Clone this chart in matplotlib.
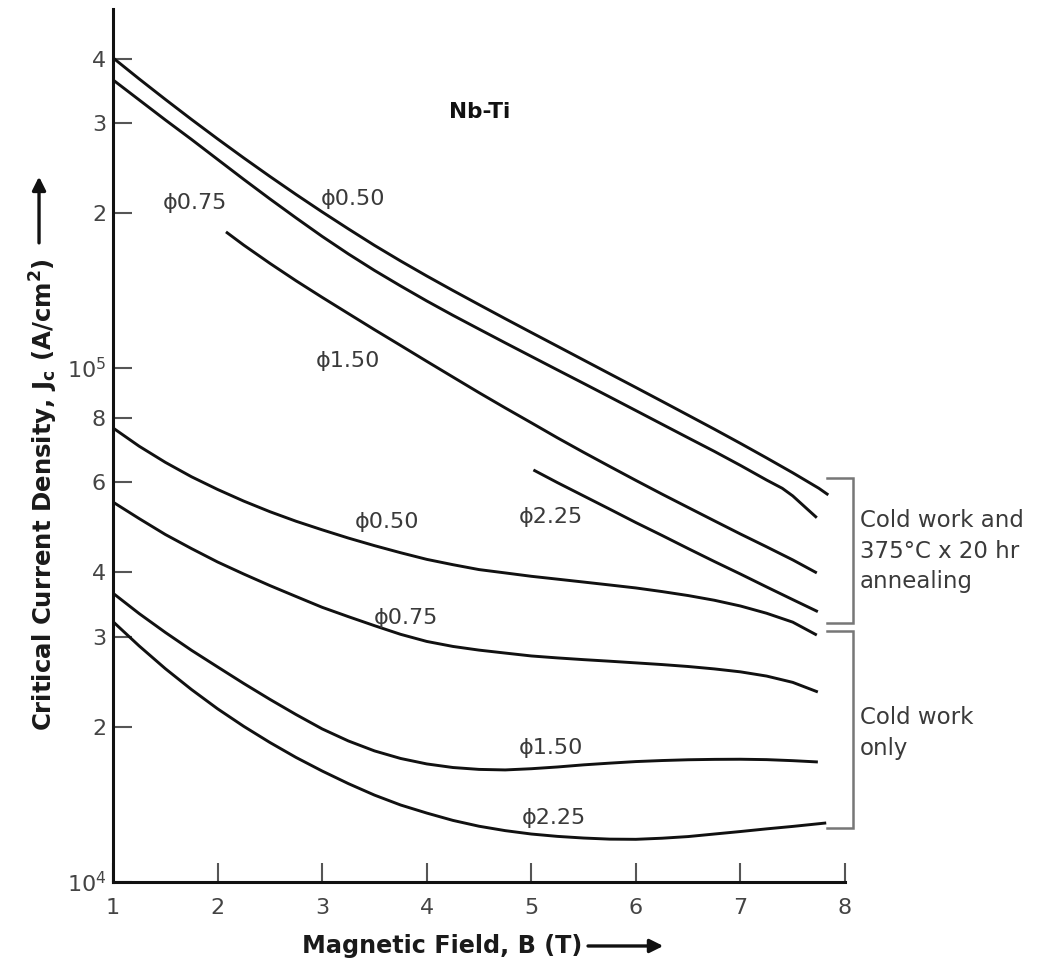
import matplotlib
matplotlib.use("Agg")
import matplotlib.pyplot as plt
from matplotlib.ticker import FixedLocator, FixedFormatter, NullLocator

plt.rcParams['font.family'] = ['DejaVu Sans']

# ---- Critical current density Jc (A/cm^2) vs magnetic field B (T), Nb-Ti wires ----
# Cold work + 375 C x 20 hr annealing
b_ann_050 = [1.0, 1.25, 1.5, 1.75, 2.0, 2.25, 2.5, 2.75, 3.0, 3.25, 3.5, 3.75, 4.0, 4.25, 4.5,
             4.75, 5.0, 5.25, 5.5, 5.75, 6.0, 6.25, 6.5, 6.75, 7.0, 7.25, 7.5, 7.75, 7.84]
jc_ann_050 = [4.013e5, 3.652e5, 3.332e5, 3.046e5, 2.791e5, 2.563e5, 2.359e5, 2.176e5, 2.012e5,
              1.865e5, 1.732e5, 1.615e5, 1.510e5, 1.415e5, 1.328e5, 1.247e5, 1.172e5, 1.102e5,
              1.036e5, 9.74e4, 9.16e4, 8.61e4, 8.09e4, 7.60e4, 7.13e4, 6.68e4, 6.25e4, 5.83e4,
              5.66e4]

b_ann_075 = [1.0, 1.25, 1.5, 1.75, 2.0, 2.25, 2.5, 2.75, 3.0, 3.25, 3.5, 3.75, 4.0, 4.25, 4.5,
             4.75, 5.0, 5.25, 5.5, 5.75, 6.0, 6.25, 6.5, 6.75, 7.0, 7.25, 7.4, 7.5, 7.6, 7.73]
jc_ann_075 = [3.636e5, 3.324e5, 3.039e5, 2.785e5, 2.546e5, 2.328e5, 2.133e5, 1.959e5, 1.803e5,
              1.667e5, 1.548e5, 1.444e5, 1.350e5, 1.266e5, 1.190e5, 1.119e5, 1.053e5, 9.91e4,
              9.33e4, 8.78e4, 8.26e4, 7.77e4, 7.31e4, 6.88e4, 6.46e4, 6.05e4, 5.83e4, 5.635e4,
              5.40e4, 5.11e4]

b_ann_150 = [2.08, 2.25, 2.5, 2.75, 3.0, 3.25, 3.5, 3.75, 4.0, 4.25, 4.5, 4.75, 5.0, 5.25, 5.5,
             5.75, 6.0, 6.25, 6.5, 6.75, 7.0, 7.25, 7.5, 7.73]
jc_ann_150 = [1.840e5, 1.734e5, 1.598e5, 1.478e5, 1.372e5, 1.276e5, 1.187e5, 1.106e5, 1.030e5,
              9.60e4, 8.95e4, 8.36e4, 7.82e4, 7.31e4, 6.85e4, 6.43e4, 6.04e4, 5.68e4, 5.35e4,
              5.04e4, 4.75e4, 4.485e4, 4.23e4, 3.99e4]

b_ann_225 = [5.02, 5.25, 5.5, 5.75, 6.0, 6.25, 6.5, 6.75, 7.0, 7.25, 7.5, 7.74]
jc_ann_225 = [6.33e4, 5.98e4, 5.635e4, 5.31e4, 5.00e4, 4.72e4, 4.45e4, 4.20e4, 3.97e4,
              3.747e4, 3.54e4, 3.354e4]

# Cold work only
b_cw_050 = [1.0, 1.25, 1.5, 1.75, 2.0, 2.25, 2.5, 2.75, 3.0, 3.25, 3.5, 3.75, 4.0, 4.25, 4.5,
            4.75, 5.0, 5.25, 5.5, 5.75, 6.0, 6.25, 6.5, 6.75, 7.0, 7.25, 7.5, 7.73]
jc_cw_050 = [7.64e4, 7.04e4, 6.55e4, 6.14e4, 5.80e4, 5.505e4, 5.25e4, 5.03e4, 4.84e4, 4.665e4,
             4.509e4, 4.368e4, 4.24e4, 4.14e4, 4.05e4, 3.99e4, 3.93e4, 3.88e4, 3.83e4, 3.78e4,
             3.73e4, 3.67e4, 3.605e4, 3.53e4, 3.44e4, 3.33e4, 3.20e4, 3.02e4]

b_cw_075 = [1.0, 1.25, 1.5, 1.75, 2.0, 2.25, 2.5, 2.75, 3.0, 3.25, 3.5, 3.75, 4.0, 4.25, 4.5,
            4.75, 5.0, 5.25, 5.5, 5.75, 6.0, 6.25, 6.5, 6.75, 7.0, 7.25, 7.5, 7.74]
jc_cw_075 = [5.48e4, 5.09e4, 4.74e4, 4.45e4, 4.19e4, 3.97e4, 3.77e4, 3.59e4, 3.42e4, 3.28e4,
             3.15e4, 3.03e4, 2.935e4, 2.87e4, 2.823e4, 2.786e4, 2.75e4, 2.726e4, 2.705e4,
             2.686e4, 2.666e4, 2.646e4, 2.623e4, 2.595e4, 2.561e4, 2.513e4, 2.443e4, 2.34e4]

b_cw_150 = [1.0, 1.25, 1.5, 1.75, 2.0, 2.25, 2.5, 2.75, 3.0, 3.25, 3.5, 3.75, 4.0, 4.25, 4.5,
            4.75, 5.0, 5.25, 5.5, 5.75, 6.0, 6.25, 6.5, 6.75, 7.0, 7.25, 7.5, 7.74]
jc_cw_150 = [3.643e4, 3.325e4, 3.056e4, 2.821e4, 2.618e4, 2.431e4, 2.264e4, 2.115e4, 1.983e4,
             1.879e4, 1.797e4, 1.737e4, 1.695e4, 1.668e4, 1.654e4, 1.650e4, 1.659e4, 1.672e4,
             1.688e4, 1.701e4, 1.713e4, 1.721e4, 1.727e4, 1.730e4, 1.731e4, 1.728e4, 1.720e4,
             1.71e4]

b_cw_225 = [1.0, 1.25, 1.5, 1.75, 2.0, 2.25, 2.5, 2.75, 3.0, 3.25, 3.5, 3.75, 4.0, 4.25, 4.5,
            4.75, 5.0, 5.25, 5.5, 5.75, 6.0, 6.25, 6.5, 6.75, 7.0, 7.25, 7.5, 7.82]
jc_cw_225 = [3.207e4, 2.876e4, 2.598e4, 2.366e4, 2.170e4, 2.006e4, 1.866e4, 1.745e4, 1.642e4,
             1.552e4, 1.474e4, 1.410e4, 1.360e4, 1.316e4, 1.282e4, 1.257e4, 1.238e4, 1.225e4,
             1.216e4, 1.210e4, 1.209e4, 1.215e4, 1.224e4, 1.238e4, 1.252e4, 1.267e4, 1.281e4,
             1.301e4]

# Curve labels: (text, B, Jc)
curve_labels = [
    ("\u03d50.75", 1.78, 2.09e5),
    ("\u03d50.50", 3.29, 2.13e5),
    ("\u03d51.50", 3.25, 1.03e5),
    ("\u03d52.25", 5.19, 5.13e4),
    ("\u03d50.50", 3.62, 5.01e4),
    ("\u03d50.75", 3.80, 3.26e4),
    ("\u03d51.50", 5.19, 1.82e4),
    ("\u03d52.25", 5.22, 1.33e4),
]

x_ticks = [1, 2, 3, 4, 5, 6, 7, 8]
y_ticks = [1e4, 2e4, 3e4, 4e4, 6e4, 8e4, 1e5, 2e5, 3e5, 4e5]
y_tick_labels = [r"$\mathregular{10^4}$", "2", "3", "4", "6", "8",
                 r"$\mathregular{10^5}$", "2", "3", "4"]

group_annealed = "Cold work and\n375\u00b0C x 20 hr\nannealing"
group_cold = "Cold work\nonly"

# ---- figure ----
W, H = 1038, 960
fig = plt.figure(figsize=(W / 100, H / 100), dpi=100)
ax = fig.add_axes([0.1089, 0.0816, 0.7052, 0.9092])

curve_kw = dict(color="#111111", lw=2.1, solid_joinstyle="round", solid_capstyle="butt")
for bx, jy in [(b_ann_050, jc_ann_050), (b_ann_075, jc_ann_075),
               (b_ann_150, jc_ann_150), (b_ann_225, jc_ann_225),
               (b_cw_050, jc_cw_050), (b_cw_075, jc_cw_075),
               (b_cw_150, jc_cw_150), (b_cw_225, jc_cw_225)]:
    ax.plot(bx, jy, **curve_kw)

ax.set_yscale("log")
ax.set_xlim(1, 8)
ax.set_ylim(1e4, 5e5)

ax.xaxis.set_major_locator(FixedLocator(x_ticks))
ax.xaxis.set_minor_locator(NullLocator())
ax.yaxis.set_major_locator(FixedLocator(y_ticks))
ax.yaxis.set_major_formatter(FixedFormatter(y_tick_labels))
ax.yaxis.set_minor_locator(NullLocator())

for side in ("top", "right"):
    ax.spines[side].set_visible(False)
for side in ("left", "bottom"):
    ax.spines[side].set_linewidth(2.2)
    ax.spines[side].set_color("#111111")

ax.tick_params(axis="both", direction="in", length=14, width=1.5, color="#555555",
               labelsize=16, labelcolor="#444444")
ax.tick_params(axis="x", pad=12)
ax.tick_params(axis="y", pad=5)

for txt, bx, jy in curve_labels:
    ax.text(bx, jy, txt, fontsize=16, color="#3a3a3a", ha="center", va="center")

ax.text(4.51, 3.15e5, "Nb-Ti", fontsize=15.5, fontweight="bold", color="#111111",
        ha="center", va="center")

# brackets grouping the curve ends
br_kw = dict(color="#777777", lw=1.8, clip_on=False, solid_joinstyle="miter")
ax.plot([7.825, 8.075, 8.075, 7.825], [6.1e4, 6.1e4, 3.19e4, 3.19e4], **br_kw)
ax.plot([7.825, 8.075, 8.075, 7.825], [3.07e4, 3.07e4, 1.27e4, 1.27e4], **br_kw)

ax.text(8.14, 4.40e4, group_annealed, fontsize=16.5, color="#3a3a3a",
        ha="left", va="center", linespacing=1.42, clip_on=False)
ax.text(8.14, 1.945e4, group_cold, fontsize=16.5, color="#3a3a3a",
        ha="left", va="center", linespacing=1.42, clip_on=False)

# axis titles with direction arrows
fig.text(0.0424, 0.4844, r"Critical Current Density, J$_\mathregular{c}$ (A/cm$^\mathregular{2}$)",
         rotation=90, fontsize=17.6, fontweight="bold", color="#1a1a1a",
         ha="center", va="center")
fig.text(0.4258, 0.0146, "Magnetic Field, B (T)", fontsize=17.2, fontweight="bold",
         color="#1a1a1a", ha="center", va="center")

arrow_kw = dict(arrowstyle="-|>", lw=2.4, color="#111111", mutation_scale=20,
                shrinkA=0, shrinkB=0)
fig_ax = fig.add_axes([0, 0, 1, 1], facecolor="none")
fig_ax.set_axis_off()
fig_ax.set_xlim(0, 1)
fig_ax.set_ylim(0, 1)
fig_ax.annotate("", xy=(0.0376, 0.8160), xytext=(0.0376, 0.7470), arrowprops=arrow_kw)
fig_ax.annotate("", xy=(0.6390, 0.0146), xytext=(0.5665, 0.0146), arrowprops=arrow_kw)

fig.savefig("out.png", dpi=100, facecolor="white")
